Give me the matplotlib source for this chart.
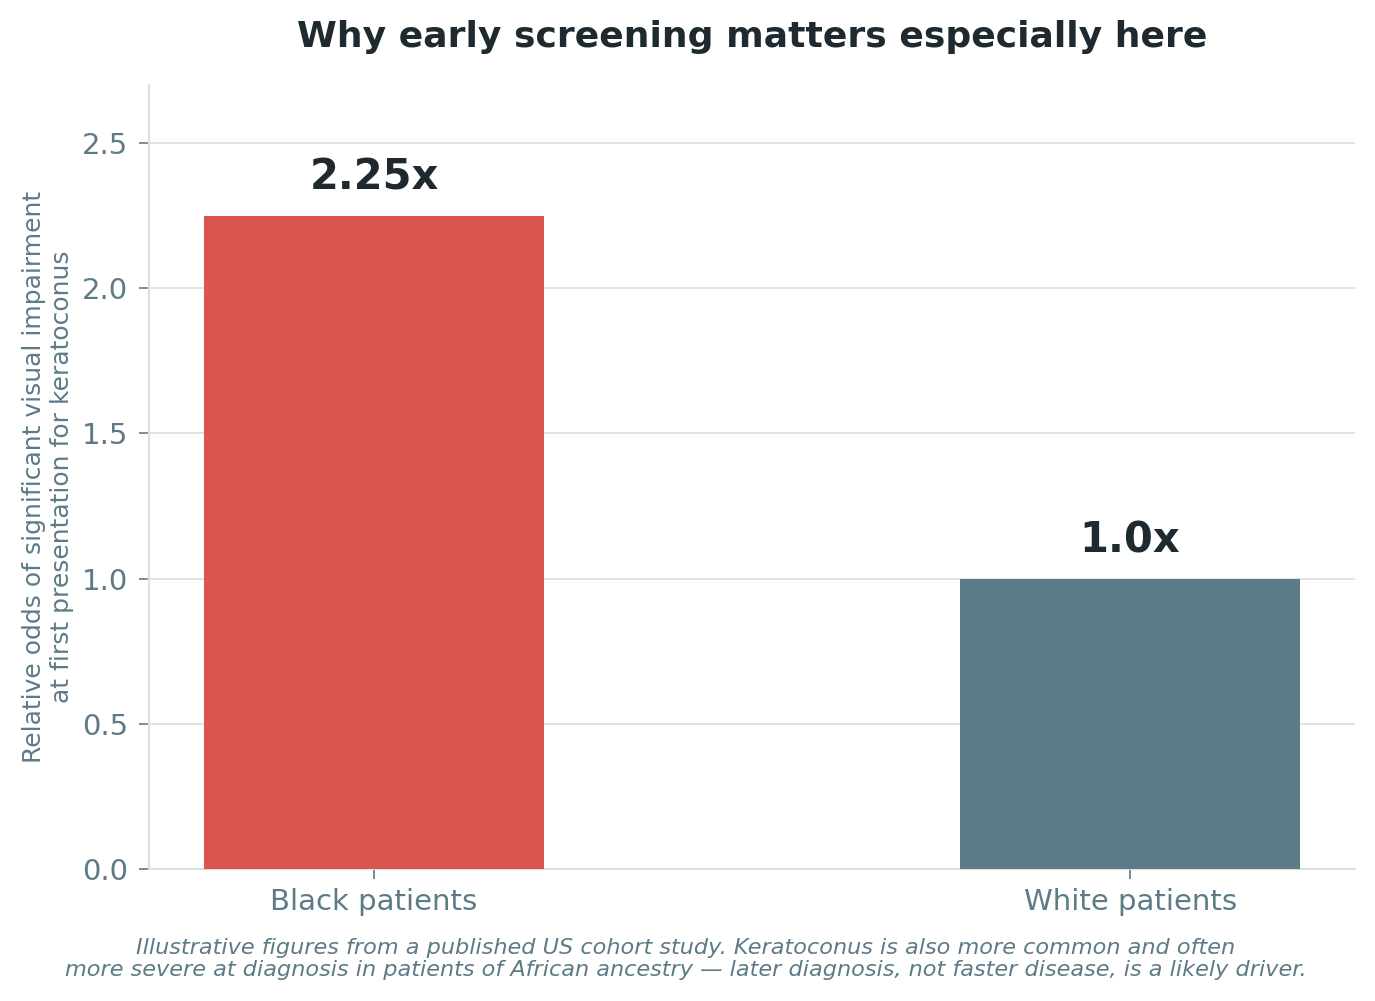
import matplotlib
matplotlib.use('Agg')
import matplotlib.pyplot as plt

groups = ['Black patients', 'White patients']
odds = [2.25, 1.0]
labels = ['2.25x', '1.0x']
colors = ['#db5550', '#5d7b87']

fig = plt.figure(figsize=(13.75, 10.01), dpi=100)
ax = fig.add_axes([0.1084, 0.1319, 0.8771, 0.7832])

x = range(len(groups))
bars = ax.bar(x, odds, width=0.45, color=colors, zorder=3)
for xi, v, lab in zip(x, odds, labels):
    ax.text(xi, v + 0.06, lab, ha='center', va='bottom', fontsize=30,
            fontweight='bold', color='#1f2a30')

ax.set_ylim(0, 2.7)
ax.set_xticks(list(x))
ax.set_xticklabels(groups)
ax.set_yticks([0, 0.5, 1.0, 1.5, 2.0, 2.5])
ax.tick_params(axis='both', colors='#5d7b87', labelsize=21, length=7, width=1.2, pad=8)
ax.tick_params(axis='x', pad=7)
ax.grid(axis='y', color='#dcdfe0', linewidth=1.2, zorder=0)
ax.spines['top'].set_visible(False)
ax.spines['right'].set_visible(False)
ax.spines['left'].set_color('#dcdfe0')
ax.spines['bottom'].set_color('#dcdfe0')
ax.spines['left'].set_linewidth(1.5)
ax.spines['bottom'].set_linewidth(1.5)

ax.set_ylabel('Relative odds of significant visual impairment\nat first presentation for keratoconus',
              fontsize=18, color='#5d7b87', labelpad=6)
ax.set_title('Why early screening matters especially here', fontsize=26,
             fontweight='bold', color='#1f2a30', pad=27)

fig.text(0.4985, 0.0415,
         'Illustrative figures from a published US cohort study. Keratoconus is also more common and often\n'
         'more severe at diagnosis in patients of African ancestry \u2014 later diagnosis, not faster disease, is a likely driver.',
         ha='center', va='center', fontsize=16.15, style='italic', color='#5d7b87',
         linespacing=1.12)

fig.savefig('out.png', dpi=100)
